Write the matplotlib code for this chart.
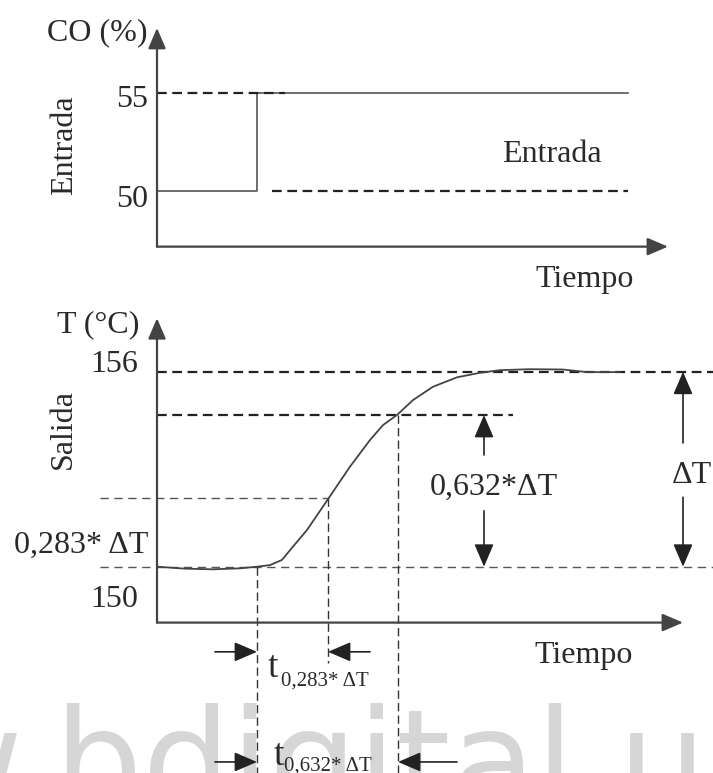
import matplotlib
matplotlib.use('Agg')
import matplotlib.pyplot as plt

plt.rcParams['font.family'] = ['Liberation Serif', 'DejaVu Serif']
plt.rcParams['lines.scale_dashes'] = False

# input step (top panel): time vs CO (%)
t_in = [0, 1.0, 1.0, 4.71]
co_in = [50, 50, 55, 55]
co_low, co_high = 50, 55

# output response (bottom panel): time vs T (C)
t_out = [0.00, 0.28, 0.56, 0.83, 1.00, 1.13, 1.25, 1.36, 1.50, 1.71, 1.93,
         2.13, 2.26, 2.40, 2.56, 2.76, 3.00, 3.23, 3.43, 3.73, 4.06, 4.30, 4.63]
T_out = [150.00, 149.94, 149.92, 149.95, 150.00, 150.05, 150.21, 150.62,
         151.13, 152.08, 153.08, 153.90, 154.36, 154.67, 155.13, 155.54,
         155.83, 155.97, 156.05, 156.08, 156.07, 155.99, 155.99]
T_low, T_high = 150, 156
T_632 = 154.67   # level as drawn (sketch, not to scale)
T_283 = 152.12
t_0, t_283, t_632 = 1.0, 1.71, 2.41

W, H = 713, 773
fig = plt.figure(figsize=(W / 100, H / 100), dpi=100)


def fx(px):
    return px / W


def fy(py):
    return 1 - py / H


ax1 = fig.add_axes([0, fy(300), 1, 300 / H], zorder=1)
ax1.set_xlim(-1.57, 5.56)
ax1.set_ylim(44.42, 59.77)
ax1.axis('off')

ax2 = fig.add_axes([0, 0, 1, 473 / H], zorder=1)
ax2.set_xlim(-1.57, 5.56)
ax2.set_ylim(143.65, 158.21)
ax2.axis('off')

ink = '#2a2a2a'
thick = dict(color='#222222', lw=1.6, dashes=(7, 4), clip_on=False)
thin = dict(color='#555555', lw=1.0, dashes=(6, 4), clip_on=False)
vert = dict(color='#333333', lw=1.0, dashes=(6, 3), clip_on=False)


def arrow(ax, start, end, lw=1.2, ms=20, color='#222222'):
    ax.annotate('', xy=end, xytext=start, annotation_clip=False,
                arrowprops=dict(arrowstyle='-|>,head_length=0.7,head_width=0.3',
                                color=color, lw=lw, shrinkA=0, shrinkB=0,
                                mutation_scale=ms))


# watermark
fig.text(fx(-318), fy(809), 'www.bdigital.unal.edu.co', family='DejaVu Sans',
         fontsize=100, color='#d6d6d6', va='baseline', zorder=0.5)

# ---- top panel ----
co_axis = 47.15
arrow(ax1, (0, co_axis), (5.11, co_axis), lw=1.6, ms=18, color='#444444')
arrow(ax1, (0, co_axis), (0, 58.34), lw=1.6, ms=18, color='#444444')
ax1.plot(t_in, co_in, color='#555555', lw=1.2, clip_on=False)
ax1.plot([0, 1.28], [co_high, co_high], **thick)
ax1.plot([1.15, t_in[-1]], [co_low, co_low], **thick)

# ---- bottom panel ----
T_axis = 148.28
bottom = ax2.get_ylim()[0]
arrow(ax2, (0, T_axis), (5.26, T_axis), lw=1.6, ms=18, color='#444444')
arrow(ax2, (0, T_axis), (0, 157.65), lw=1.6, ms=18, color='#444444')

ax2.plot([0, 5.56], [T_high, T_high], **thick)
ax2.plot([0, 3.56], [T_632, T_632], **thick)
ax2.plot([-0.57, t_283], [T_283, T_283], **thin)
ax2.plot([-0.57, 5.56], [T_low, T_low], **thin)

ax2.plot([t_0, t_0], [T_low, bottom], **vert)
ax2.plot([t_283, t_283], [T_283, 147.03], **vert)
ax2.plot([t_632, t_632], [T_632, bottom], **vert)

ax2.plot(t_out, T_out, color='#444444', lw=1.3, clip_on=False)

# 0.632*dT and dT arrows
arrow(ax2, (3.27, 153.44), (3.27, T_632))
arrow(ax2, (3.27, 151.72), (3.27, T_low))
arrow(ax2, (5.26, 153.81), (5.26, T_high))
arrow(ax2, (5.26, 152.14), (5.26, T_low))

# time interval arrows
arrow(ax2, (0.58, 147.38), (t_0, 147.38))
arrow(ax2, (2.13, 147.38), (t_283, 147.38))
arrow(ax2, (0.58, 143.99), (t_0, 143.99))
arrow(ax2, (3.00, 143.99), (t_632, 143.99))

# ---- text ----
ts = dict(color=ink, fontsize=23)
fig.text(fx(47), fy(40), 'CO (%)', ha='left', va='baseline', **ts)
fig.text(fx(148), fy(107), '55', ha='right', va='baseline', **ts)
fig.text(fx(148), fy(207), '50', ha='right', va='baseline', **ts)
fig.text(fx(72), fy(145), 'Entrada', rotation=90, rotation_mode='anchor',
         ha='center', va='baseline', **ts)
fig.text(fx(502), fy(162), 'Entrada', ha='left', va='baseline', **ts)
fig.text(fx(535), fy(287), 'Tiempo', ha='left', va='baseline', **ts)

fig.text(fx(57), fy(332), 'T (°C)', ha='left', va='baseline', **ts)
fig.text(fx(138), fy(372), '156', ha='right', va='baseline', **ts)
fig.text(fx(138), fy(607), '150', ha='right', va='baseline', **ts)
fig.text(fx(71), fy(429), 'Salida', rotation=90, rotation_mode='anchor',
         ha='center', va='baseline', **ts)
fig.text(fx(14), fy(553), '0,283* ΔT', ha='left', va='baseline', **ts)
fig.text(fx(430), fy(495), '0,632*ΔT', ha='left', va='baseline', **ts)
fig.text(fx(672), fy(483), 'ΔT', ha='left', va='baseline', **ts)
fig.text(fx(534), fy(663), 'Tiempo', ha='left', va='baseline', **ts)

fig.text(fx(268), fy(677), 't', ha='left', va='baseline', color=ink, fontsize=27)
fig.text(fx(281), fy(686), '0,283* ΔT', ha='left', va='baseline', color=ink, fontsize=15)
fig.text(fx(274), fy(765), 't', ha='left', va='baseline', color=ink, fontsize=27)
fig.text(fx(284), fy(771), '0,632* ΔT', ha='left', va='baseline', color=ink, fontsize=15)

fig.savefig('out.png', dpi=100)
